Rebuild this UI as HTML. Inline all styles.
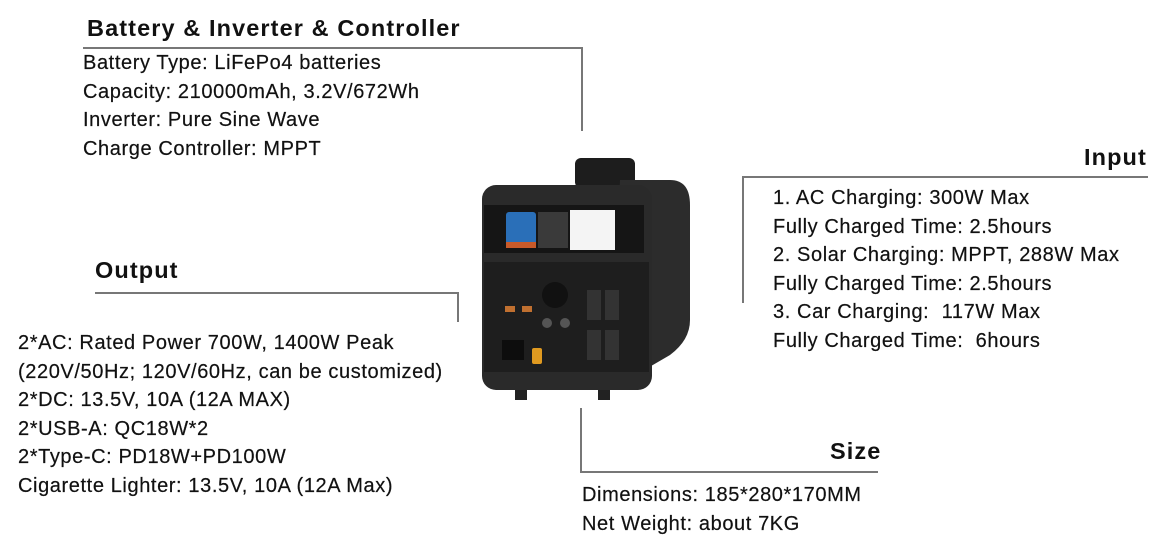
<!DOCTYPE html>
<html><head><meta charset="utf-8"><style>
body{margin:0;width:1160px;height:547px;background:#fff;position:relative;overflow:hidden;font-family:"Liberation Sans",sans-serif;color:#111}
.t{position:absolute;font-size:20px;line-height:28.5px;white-space:nowrap;letter-spacing:0.6px;font-weight:500;-webkit-text-stroke:0.2px #111}
.h{position:absolute;font-size:23.5px;font-weight:bold;white-space:nowrap;letter-spacing:1.1px}
.l{position:absolute;background:#777}
</style></head><body>
<div class="h" style="left:87px;top:15px">Battery &amp; Inverter &amp; Controller</div>
<div class="l" style="left:83px;top:47px;width:500px;height:2px"></div>
<div class="l" style="left:581px;top:47px;width:2px;height:84px"></div>
<div class="t" style="left:83px;top:49px">Battery Type: LiFePo4 batteries<br>Capacity: 210000mAh, 3.2V/672Wh<br>Inverter: Pure Sine Wave<br>Charge Controller: MPPT</div>

<div class="h" style="left:1084px;top:144px">Input</div>
<div class="l" style="left:742px;top:176px;width:406px;height:2px"></div>
<div class="l" style="left:742px;top:176px;width:2px;height:127px"></div>
<div class="t" style="left:773px;top:184px">1. AC Charging: 300W Max<br>Fully Charged Time: 2.5hours<br>2. Solar Charging: MPPT, 288W Max<br>Fully Charged Time: 2.5hours<br>3. Car Charging:&nbsp; 117W Max<br>Fully Charged Time:&nbsp; 6hours</div>

<div class="h" style="left:95px;top:257px">Output</div>
<div class="l" style="left:95px;top:292px;width:364px;height:2px"></div>
<div class="l" style="left:457px;top:292px;width:2px;height:30px"></div>
<div class="t" style="left:18px;top:329px">2*AC: Rated Power 700W, 1400W Peak<br>(220V/50Hz; 120V/60Hz, can be customized)<br>2*DC: 13.5V, 10A (12A MAX)<br>2*USB-A: QC18W*2<br>2*Type-C: PD18W+PD100W<br>Cigarette Lighter: 13.5V, 10A (12A Max)</div>

<div class="h" style="left:830px;top:438px">Size</div>
<div class="l" style="left:580px;top:408px;width:2px;height:65px"></div>
<div class="l" style="left:580px;top:471px;width:298px;height:2px"></div>
<div class="t" style="left:582px;top:481px">Dimensions: 185*280*170MM<br>Net Weight: about 7KG</div>

<svg style="position:absolute;left:470px;top:150px" width="240" height="260" viewBox="0 0 240 260">
<rect x="105" y="8" width="60" height="30" rx="6" fill="#1d1d1d"/>
<path d="M150 30 L200 30 Q220 30 220 55 L220 170 Q220 190 200 205 L140 240 Z" fill="#2c2c2c"/>
<rect x="12" y="35" width="170" height="205" rx="14" fill="#2a2a2a"/>
<rect x="14" y="55" width="160" height="48" fill="#151515"/>
<rect x="36" y="62" width="30" height="36" rx="3" fill="#2a6fb8"/>
<rect x="36" y="92" width="30" height="6" fill="#c85a2a"/>
<rect x="68" y="62" width="30" height="36" fill="#3a3a3a"/>
<rect x="100" y="60" width="45" height="40" fill="#f4f4f4"/>
<rect x="14" y="112" width="165" height="110" fill="#1e1e1e"/>
<circle cx="85" cy="145" r="13" fill="#111"/>
<circle cx="77" cy="173" r="5" fill="#555"/><circle cx="95" cy="173" r="5" fill="#555"/>
<rect x="117" y="140" width="14" height="30" fill="#333"/><rect x="135" y="140" width="14" height="30" fill="#333"/>
<rect x="117" y="180" width="14" height="30" fill="#333"/><rect x="135" y="180" width="14" height="30" fill="#333"/>
<rect x="35" y="156" width="10" height="6" fill="#c07030"/><rect x="52" y="156" width="10" height="6" fill="#c07030"/>
<rect x="32" y="190" width="22" height="20" fill="#0d0d0d"/>
<rect x="62" y="198" width="10" height="16" rx="2" fill="#e09a20"/>
<rect x="45" y="240" width="12" height="10" fill="#222"/><rect x="128" y="240" width="12" height="10" fill="#222"/>
</svg>
</body></html>
